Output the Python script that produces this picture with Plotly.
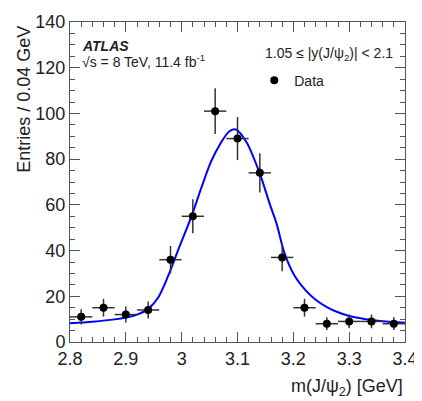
import plotly.graph_objects as go

# ---- data ----
bin_centers = [2.82, 2.86, 2.90, 2.94, 2.98, 3.02, 3.06, 3.10, 3.14, 3.18, 3.22, 3.26, 3.30, 3.34, 3.38]
counts      = [11, 15, 12, 14, 36, 55, 101, 89, 74, 37, 15, 8, 9, 9, 8]
count_errs  = [3.3, 3.9, 3.5, 3.7, 6.0, 7.4, 10.0, 9.4, 8.6, 6.1, 3.9, 2.8, 3.0, 3.0, 2.8]
bin_half_widths = [0.02] * 15

fit_x = [2.80, 2.84, 2.88, 2.90, 2.92, 2.94, 2.958, 2.976, 2.994, 3.017, 3.035, 3.052, 3.070,
         3.085, 3.097, 3.117, 3.1345, 3.143, 3.158, 3.170, 3.184, 3.202, 3.2225, 3.240,
         3.26, 3.28, 3.30, 3.33, 3.36, 3.40]
fit_y = [8.2, 8.9, 9.9, 10.7, 12.0, 14.5, 19.5, 29.0, 40.4, 54.6, 67.3, 78.6, 87.1,
         92.1, 93.0, 87.1, 77.2, 71.6, 60.2, 51.8, 39.0, 29.1, 22.5, 18.5,
         15.3, 13.0, 11.4, 10.0, 9.1, 8.4]

x_tickvals = [2.8, 2.9, 3.0, 3.1, 3.2, 3.3, 3.4]
x_ticktext = ["2.8", "2.9", "3", "3.1", "3.2", "3.3", "3.4"]
y_tickvals = [0, 20, 40, 60, 80, 100, 120, 140]

FONT = "Liberation Sans, Arial, Helvetica, sans-serif"
AXCOL = "#555555"

fig = go.Figure()

fig.add_trace(go.Scatter(
    x=fit_x, y=fit_y, mode="lines", line=dict(color="#0000ff", width=2, shape="spline", smoothing=0.8),
    showlegend=False, hoverinfo="skip"))

fig.add_trace(go.Scatter(
    x=bin_centers, y=counts, mode="markers", name="Data",
    marker=dict(color="black", size=8),
    error_y=dict(type="data", array=count_errs, color="#333333", thickness=1.5, width=0),
    error_x=dict(type="data", array=bin_half_widths, color="#333333", thickness=1.5, width=0),
))

axis_common = dict(
    showgrid=False, zeroline=False, showline=True, linecolor=AXCOL, linewidth=1,
    mirror="allticks", ticks="inside", tickcolor=AXCOL, ticklen=10, tickwidth=1,
    tickfont=dict(family=FONT, size=18, color="#222222"), ticklabeloverflow="allow",
)

fig.update_xaxes(range=[2.8, 3.4], tickvals=x_tickvals, ticktext=x_ticktext,
                 minor=dict(dtick=0.02, tick0=2.8, ticks="inside", ticklen=5, tickcolor=AXCOL),
                 **axis_common)
fig.update_yaxes(range=[0, 140], tickvals=y_tickvals,
                 minor=dict(dtick=5, tick0=0, ticks="inside", ticklen=5, tickcolor=AXCOL),
                 **axis_common)

fig.update_layout(
    width=414, height=393,
    margin=dict(l=62, r=11, t=4, b=59),
    plot_bgcolor="white", paper_bgcolor="white",
    font=dict(family=FONT, color="#222222"),
    legend=dict(x=0.55, y=0.867, xanchor="left", yanchor="top",
                bgcolor="rgba(0,0,0,0)", font=dict(family=FONT, size=14)),
    annotations=[
        dict(text="Entries / 0.04 GeV", textangle=-90, xref="paper", yref="paper",
             x=-0.174, y=0.995, xanchor="left", yanchor="top", showarrow=False,
             font=dict(family=FONT, size=18)),
        dict(text="m(J/ψ<sub>2</sub>) [GeV]", xref="paper", yref="paper",
             x=1.0, y=-0.1, xanchor="right", yanchor="top", showarrow=False,
             font=dict(family=FONT, size=18)),
        dict(text="<b><i>ATLAS</i></b>", xref="paper", yref="paper",
             x=0.03, y=1 - (37 - 12) / 330, xanchor="left", yanchor="middle", showarrow=False,
             font=dict(family=FONT, size=14)),
        dict(text="√s = 8 TeV, 11.4 fb<sup>-1</sup>", xref="paper", yref="paper",
             x=0.03, y=1 - (52 - 12) / 330, xanchor="left", yanchor="middle", showarrow=False,
             font=dict(family=FONT, size=14)),
        dict(text="1.05 ≤ |y(J/ψ<sub>2</sub>)| < 2.1", xref="paper", yref="paper",
             x=0.97, y=1 - (45 - 12) / 330, xanchor="right", yanchor="middle", showarrow=False,
             font=dict(family=FONT, size=14)),
    ],
)

fig.write_html("out.html")
